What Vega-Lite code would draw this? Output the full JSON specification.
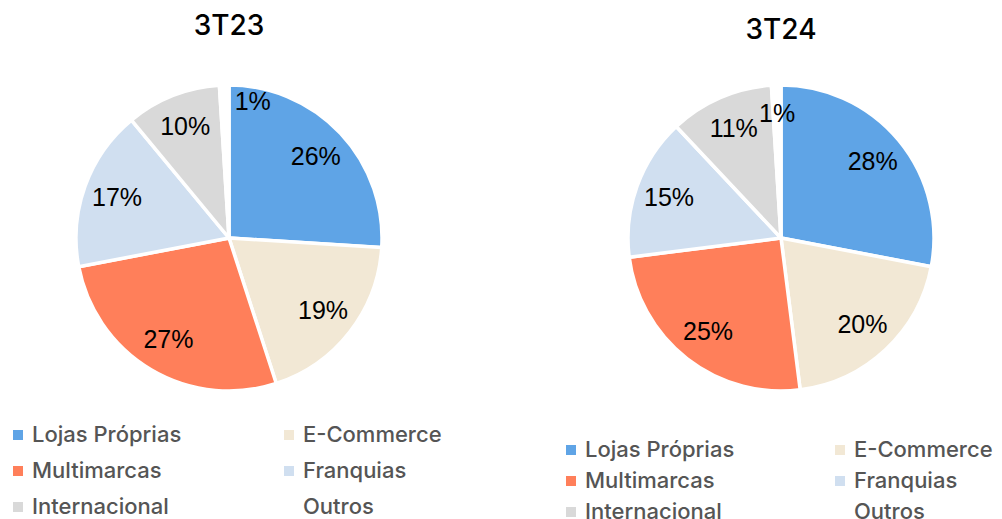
{
  "$schema": "https://vega.github.io/schema/vega-lite/v6.json",
  "padding": {"top": 13, "left": 0, "right": 0, "bottom": 0},
  "background": "white",
  "spacing": 94,
  "bounds": "flush",
  "config": {
    "view": {"stroke": null},
    "font": "Liberation Sans",
    "title": {"font": "Inter", "fontSize": 28, "fontWeight": 500, "color": "#000000", "anchor": "middle"},
    "legend": {
      "labelFont": "Inter",
      "labelFontSize": 22,
      "labelFontWeight": 500,
      "labelColor": "#555555",
      "symbolType": "square",
      "symbolSize": 100,
      "symbolStrokeWidth": 0,
      "labelOffset": 3,
      "columns": 2,
      "direction": "horizontal",
      "orient": "none",
      "title": null,
      "padding": 0
    }
  },
  "datasets": {
    "t23": [
      {"cat": "Lojas Próprias", "ordem": 1, "pct": 26, "label": "26%"},
      {"cat": "E-Commerce", "ordem": 2, "pct": 19, "label": "19%"},
      {"cat": "Multimarcas", "ordem": 3, "pct": 27, "label": "27%"},
      {"cat": "Franquias", "ordem": 4, "pct": 17, "label": "17%"},
      {"cat": "Internacional", "ordem": 5, "pct": 10, "label": "10%"},
      {"cat": "Outros", "ordem": 6, "pct": 1, "label": "1%"}
    ],
    "t24": [
      {"cat": "Lojas Próprias", "ordem": 1, "pct": 28, "label": "28%"},
      {"cat": "E-Commerce", "ordem": 2, "pct": 20, "label": "20%"},
      {"cat": "Multimarcas", "ordem": 3, "pct": 25, "label": "25%"},
      {"cat": "Franquias", "ordem": 4, "pct": 15, "label": "15%"},
      {"cat": "Internacional", "ordem": 5, "pct": 11, "label": "11%"},
      {"cat": "Outros", "ordem": 6, "pct": 1, "label": "1%"}
    ]
  },
  "resolve": {"scale": {"color": "independent", "theta": "independent"}, "legend": {"color": "independent"}},
  "hconcat": [
    {
      "width": 458,
      "height": 300,
      "title": {"text": "3T23", "offset": 37},
      "data": {"name": "t23"},
      "encoding": {
        "theta": {"field": "pct", "type": "quantitative", "stack": true},
        "order": {"field": "ordem", "type": "quantitative"}
      },
      "layer": [
        {
          "mark": {"type": "arc", "outerRadius": 153, "stroke": "white", "strokeWidth": 3.5},
          "encoding": {
            "color": {
              "field": "cat",
              "type": "nominal",
              "scale": {
                "domain": ["Lojas Próprias", "E-Commerce", "Multimarcas", "Franquias", "Internacional", "Outros"],
                "range": ["#5FA4E6", "#F2E8D5", "#FF7F5A", "#D0DFF0", "#D9D9D9", "#FFFFFF"]
              },
              "legend": {"legendX": 7, "legendY": 336, "columnPadding": 96, "rowPadding": 14}
            }
          }
        },
        {
          "mark": {"type": "text", "radius": 119, "fontSize": 25, "color": "#000000"},
          "encoding": {
            "text": {"condition": {"test": "datum.cat !== 'Outros'", "field": "label"}, "value": ""}
          }
        },
        {
          "mark": {"type": "text", "radius": 136, "dx": 28, "fontSize": 25, "color": "#000000"},
          "encoding": {
            "text": {"condition": {"test": "datum.cat === 'Outros'", "field": "label"}, "value": ""}
          }
        }
      ]
    },
    {
      "width": 458,
      "height": 300,
      "title": {"text": "3T24", "offset": 33},
      "data": {"name": "t24"},
      "encoding": {
        "theta": {"field": "pct", "type": "quantitative", "stack": true},
        "order": {"field": "ordem", "type": "quantitative"}
      },
      "layer": [
        {
          "mark": {"type": "arc", "outerRadius": 153, "stroke": "white", "strokeWidth": 3.5},
          "encoding": {
            "color": {
              "field": "cat",
              "type": "nominal",
              "scale": {
                "domain": ["Lojas Próprias", "E-Commerce", "Multimarcas", "Franquias", "Internacional", "Outros"],
                "range": ["#5FA4E6", "#F2E8D5", "#FF7F5A", "#D0DFF0", "#D9D9D9", "#FFFFFF"]
              },
              "legend": {"legendX": 8, "legendY": 351, "columnPadding": 94, "rowPadding": 9}
            }
          }
        },
        {
          "mark": {"type": "text", "radius": 119, "fontSize": 25, "color": "#000000"},
          "encoding": {
            "text": {"condition": {"test": "datum.cat !== 'Outros'", "field": "label"}, "value": ""}
          }
        },
        {
          "mark": {"type": "text", "radius": 124, "fontSize": 25, "color": "#000000"},
          "encoding": {
            "text": {"condition": {"test": "datum.cat === 'Outros'", "field": "label"}, "value": ""}
          }
        }
      ]
    }
  ]
}
